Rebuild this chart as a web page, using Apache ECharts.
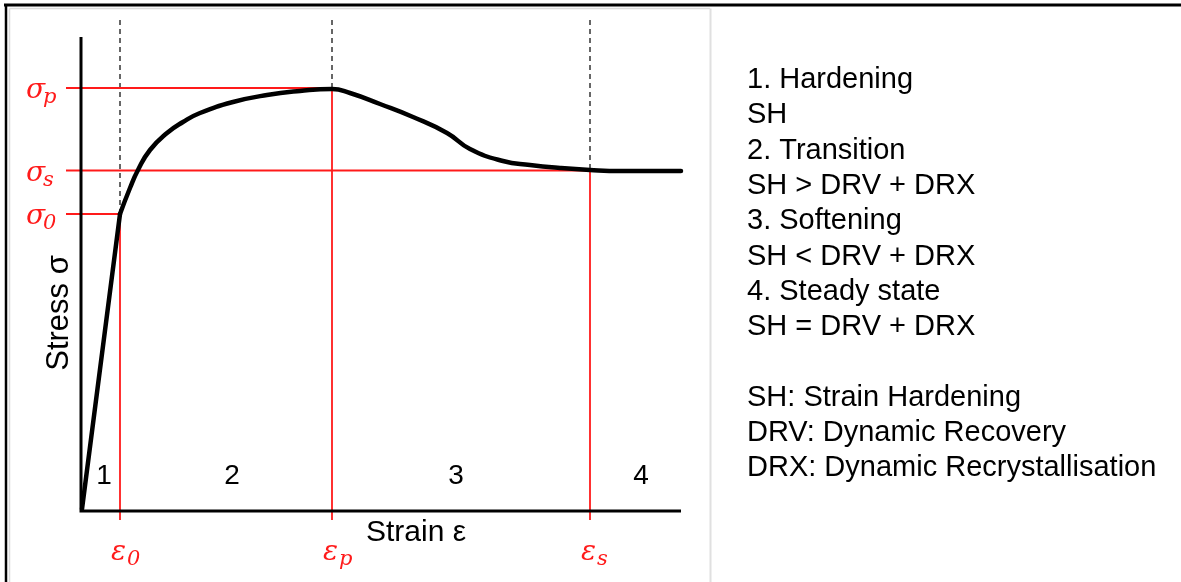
<!DOCTYPE html>
<html>
<head>
<meta charset="utf-8">
<title>Flow curve – dynamic softening stages</title>
<script src="https://cdn.jsdelivr.net/npm/echarts@6/dist/echarts.min.js"></script>
<style>
  html, body { margin: 0; padding: 0; background: #ffffff; }
  #chart { width: 1181px; height: 582px; }
</style>
</head>
<body>
<div id="chart"></div>
<script>
// Flow curve (schematic), strain vs stress in arbitrary units
const curveStrain = [0.39, 0.49, 0.57, 0.69, 0.86, 1.02, 1.19, 1.52, 1.86, 2.19, 2.51, 2.69, 2.99, 3.32, 3.66, 3.89, 4.22, 4.49, 4.79, 5.09, 5.40, 6.00];
const curveStress = [2.97, 3.23, 3.41, 3.61, 3.78, 3.89, 3.98, 4.09, 4.16, 4.20, 4.22, 4.18, 4.07, 3.94, 3.78, 3.62, 3.50, 3.46, 3.43, 3.41, 3.40, 3.40];
// Loading branch up to the onset of yielding
const loadStrain = [0.01, 0.39];
const loadStress = [0.02, 2.97];

// Characteristic points: onset (0), peak (p), steady state (s)
const markNames = ['0', 'p', 's'];
const markStrain = [0.39, 2.51, 5.09];
const markStress = [2.97, 4.23, 3.405];

// Stage numbers and where they sit along the strain axis
const stageLabels = ['1', '2', '3', '4'];
const stageStrain = [0.23, 1.51, 3.75, 5.60];
const stageStress = 0.35;

const axisEndStrain = 6.0;
const axisEndStress = 4.74;

const legendLines = [
  '1. Hardening', 'SH', '2. Transition', 'SH > DRV + DRX',
  '3. Softening', 'SH < DRV + DRX', '4. Steady state', 'SH = DRV + DRX',
  '', 'SH: Strain Hardening', 'DRV: Dynamic Recovery', 'DRX: Dynamic Recrystallisation'
];

const X_MIN = -0.15, X_MAX = 6.0, Y_MIN = -0.09, Y_MAX = 4.91;
const RED = '#ff1a1a';
const SANS = '"Liberation Sans", Arial, sans-serif';
const SERIF = '"DejaVu Serif", "Liberation Serif", serif';

const zip = (a, b) => a.map((v, i) => [v, b[i]]);

const series = [];

// Dashed guides from the top down to each characteristic point
markStrain.forEach((x, i) => {
  series.push({
    type: 'line', data: [[x, Y_MAX], [x, markStress[i]]],
    symbol: 'none', silent: true, z: 1,
    lineStyle: { color: '#333', width: 1.5, type: [5, 4] }
  });
});
// Red stress guides (left) and strain guides (down)
markStrain.forEach((x, i) => {
  const y = markStress[i];
  const xEnd = markNames[i] === 's' ? axisEndStrain : x;
  series.push({
    type: 'line', data: [[X_MIN, y], [xEnd, y]],
    symbol: 'none', silent: true, z: 2,
    lineStyle: { color: RED, width: 1.8 }
  });
  series.push({
    type: 'line', data: [[x, y], [x, Y_MIN]],
    symbol: 'none', silent: true, z: 2,
    lineStyle: { color: RED, width: 1.8 }
  });
});
// Axes drawn as lines through the origin
series.push({
  type: 'line', data: [[0, axisEndStress], [0, 0], [axisEndStrain, 0]],
  symbol: 'none', silent: true, z: 3,
  lineStyle: { color: '#000', width: 3, join: 'miter' }
});
// Flow curve
series.push({
  type: 'line', data: zip(loadStrain, loadStress),
  symbol: 'none', silent: true, z: 4,
  lineStyle: { color: '#000', width: 4.5, cap: 'round' }
});
series.push({
  type: 'line', data: zip(curveStrain, curveStress),
  symbol: 'none', smooth: 0.5, silent: true, z: 4,
  lineStyle: { color: '#000', width: 4.5, cap: 'round', join: 'round' }
});

const chart = echarts.init(document.getElementById('chart'), null, { renderer: 'canvas' });

chart.setOption({
  animation: false,
  backgroundColor: '#ffffff',
  grid: { left: 66, top: 20, width: 615, height: 500 },
  xAxis: { type: 'value', min: X_MIN, max: X_MAX, show: false },
  yAxis: { type: 'value', min: Y_MIN, max: Y_MAX, show: false },
  series: series
});

const px = (x, y) => chart.convertToPixel({ gridIndex: 0 }, [x, y]);
const graphics = [];

// Frame and divider
graphics.push({ type: 'line', shape: { x1: 4, y1: 5, x2: 1181, y2: 5 }, style: { stroke: '#000', lineWidth: 3 } });
graphics.push({ type: 'line', shape: { x1: 6, y1: 4, x2: 6, y2: 582 }, style: { stroke: '#000', lineWidth: 2.5 } });
graphics.push({ type: 'line', shape: { x1: 9.5, y1: 8.5, x2: 710, y2: 8.5 }, style: { stroke: '#dcdcdc', lineWidth: 1.5 } });
graphics.push({ type: 'line', shape: { x1: 9.5, y1: 8.5, x2: 9.5, y2: 582 }, style: { stroke: '#dcdcdc', lineWidth: 1.5 } });
graphics.push({ type: 'line', shape: { x1: 710.5, y1: 8.5, x2: 710.5, y2: 582 }, style: { stroke: '#e0e0e0', lineWidth: 2 } });

// σ labels to the left of the stress guides
markStress.forEach((y, i) => {
  const p = px(X_MIN, y);
  graphics.push({ type: 'text', x: 26, y: p[1] + 3, z: 10,
    style: { text: 'σ', font: 'italic 28px ' + SERIF, fill: RED, textAlign: 'left', textVerticalAlign: 'middle' } });
  graphics.push({ type: 'text', x: 43, y: p[1] + 10, z: 10,
    style: { text: markNames[i], font: 'italic 21px ' + SERIF, fill: RED, textAlign: 'left', textVerticalAlign: 'middle' } });
});
// ε labels under the strain guides
markStrain.forEach((x, i) => {
  const p = px(x, Y_MIN);
  graphics.push({ type: 'text', x: p[0] - 9, y: 553, z: 10,
    style: { text: 'ε', font: 'italic 28px ' + SERIF, fill: RED, textAlign: 'left', textVerticalAlign: 'middle' } });
  graphics.push({ type: 'text', x: p[0] + 7, y: 560, z: 10,
    style: { text: markNames[i], font: 'italic 21px ' + SERIF, fill: RED, textAlign: 'left', textVerticalAlign: 'middle' } });
});
// Stage numbers
stageLabels.forEach((t, i) => {
  const p = px(stageStrain[i], stageStress);
  graphics.push({ type: 'text', x: p[0], y: p[1], z: 10,
    style: { text: t, font: '28px ' + SANS, fill: '#000', textAlign: 'center', textVerticalAlign: 'middle' } });
});
// Axis titles
graphics.push({ type: 'text', x: 416, y: 533, z: 10,
  style: { text: 'Strain ε', font: '30px ' + SANS, fill: '#000', textAlign: 'center', textVerticalAlign: 'middle' } });
graphics.push({ type: 'text', x: 59, y: 313, rotation: Math.PI / 2, z: 10,
  style: { text: 'Stress σ', font: '31px ' + SANS, fill: '#000', textAlign: 'center', textVerticalAlign: 'middle' } });

// Stage descriptions
legendLines.forEach((t, i) => {
  if (!t) return;
  graphics.push({ type: 'text', x: 747, y: 80 + i * 35.3, z: 10,
    style: { text: t, font: '29px ' + SANS, fill: '#000', textAlign: 'left', textVerticalAlign: 'middle' } });
});

chart.setOption({ graphic: graphics });
</script>
</body>
</html>
